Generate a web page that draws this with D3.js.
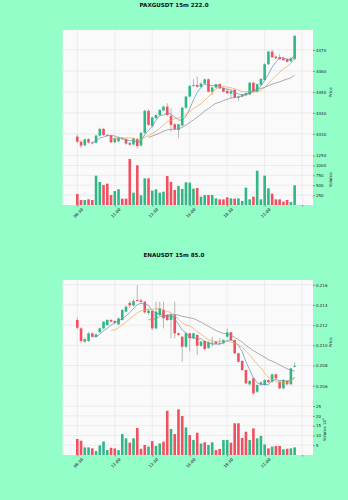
<!DOCTYPE html>
<html><head><meta charset="utf-8">
<script src="https://cdn.jsdelivr.net/npm/d3@7"></script>
<style>body{margin:0;background:#93fec8;}svg{display:block;font-family:"DejaVu Sans",sans-serif;}</style>
</head><body><svg id="c" width="348" height="500"></svg>
<script>
// ---- shared x ticks ----
const tickIndex = [0, 10, 20, 30, 40, 50, 60];
const tickLabels = ["08:30", "11:00", "13:30", "16:00", "18:30", "21:00", ""];
const maPeriods = [5, 10, 20];

// ---- PAXGUSDT ----
const paxgTitle = "PAXGUSDT 15m 222.0";
const paxgOpen = [4428.7,4426.3,4424.6,4427.5,4425.9,4425.8,4429.2,4432.4,4429.5,4429.2,4426.0,4426.5,4428.0,4427.5,4425.6,4425.0,4427.6,4424.5,4430.5,4441.0,4433.8,4437.5,4439.0,4441.2,4443.0,4438.5,4434.6,4431.9,4434.0,4442.5,4447.8,4452.9,4453.3,4452.4,4454.0,4456.0,4450.1,4452.1,4453.7,4451.9,4450.6,4449.2,4451.0,4447.3,4447.8,4448.4,4448.8,4454.4,4450.1,4453.4,4455.7,4463.2,4469.2,4466.8,4466.5,4466.0,4465.6,4464.6,4465.6];
const paxgHigh = [4429.6,4426.8,4427.9,4428.0,4426.4,4429.6,4432.9,4432.9,4430.0,4429.6,4428.4,4428.8,4428.4,4428.0,4426.2,4428.3,4428.0,4431.0,4441.6,4441.5,4438.2,4439.4,4441.8,4443.4,4444.6,4442.2,4435.0,4434.9,4442.8,4448.2,4453.2,4456.2,4457.3,4454.4,4456.4,4456.4,4452.5,4454.0,4454.1,4452.3,4451.3,4450.8,4451.4,4448.2,4448.9,4449.8,4454.8,4454.8,4454.0,4456.6,4463.6,4469.6,4470.0,4467.2,4468.0,4466.4,4466.0,4466.4,4477.1];
const paxgLow = [4425.6,4423.3,4424.0,4425.4,4425.0,4425.4,4428.8,4429.0,4428.8,4425.6,4425.6,4426.0,4427.0,4424.8,4424.4,4424.6,4423.2,4424.0,4430.0,4433.8,4433.2,4437.0,4438.6,4440.8,4438.6,4431.1,4431.8,4428.0,4433.6,4442.0,4447.4,4452.4,4452.0,4452.0,4453.6,4449.8,4448.6,4451.7,4451.4,4449.8,4449.0,4447.0,4447.0,4445.7,4447.4,4448.0,4448.4,4449.8,4449.8,4453.0,4455.4,4462.8,4466.2,4465.7,4465.3,4464.8,4464.0,4464.2,4465.2];
const paxgClose = [4426.3,4424.4,4427.4,4425.9,4425.5,4429.2,4432.4,4429.5,4429.2,4426.0,4428.0,4428.3,4427.6,4425.4,4424.9,4427.8,4424.2,4430.5,4441.0,4434.3,4437.8,4439.0,4441.4,4443.0,4439.0,4434.3,4432.4,4434.6,4442.5,4447.8,4452.9,4453.3,4452.5,4454.0,4456.0,4450.1,4452.1,4453.7,4451.7,4450.1,4449.4,4450.4,4447.3,4447.8,4448.6,4449.4,4454.4,4450.1,4453.7,4456.2,4463.2,4469.2,4466.5,4466.0,4465.6,4465.1,4464.4,4466.0,4476.7];
const paxgVolume = [278,126,126,143,126,740,581,505,538,252,353,396,160,160,1162,311,1002,244,673,673,362,396,311,337,732,581,379,480,404,572,564,412,429,210,252,252,252,168,143,143,193,168,160,168,101,438,143,210,867,143,740,421,286,143,143,84,126,76,497];
const paxgPriceTicks = [4430, 4440, 4450, 4460, 4470];
const paxgVolumeTicks = [250, 500, 750, 1000, 1250];

// ---- ENAUSDT ----
const enaTitle = "ENAUSDT 15m 85.0";
const enaOpen = [0.21251,0.21168,0.21036,0.21043,0.21119,0.21085,0.21130,0.21168,0.21201,0.21251,0.21240,0.21208,0.21251,0.21333,0.21420,0.21395,0.21449,0.21445,0.21432,0.21320,0.21340,0.21168,0.21300,0.21350,0.21300,0.21251,0.21300,0.21119,0.21085,0.20986,0.21119,0.21069,0.21102,0.20996,0.21043,0.20975,0.21016,0.21036,0.21023,0.21020,0.21085,0.21129,0.21052,0.20921,0.20845,0.20755,0.20614,0.20673,0.20541,0.20614,0.20607,0.20656,0.20640,0.20713,0.20640,0.20574,0.20647,0.20614,0.20788];
const enaHigh = [0.21275,0.21180,0.21075,0.21130,0.21130,0.21118,0.21175,0.21240,0.21260,0.21262,0.21250,0.21275,0.21360,0.21392,0.21440,0.21460,0.21597,0.21462,0.21440,0.21360,0.21350,0.21432,0.21432,0.21432,0.21310,0.21310,0.21432,0.21130,0.21095,0.21130,0.21125,0.21125,0.21110,0.21045,0.21050,0.21040,0.21085,0.21045,0.21070,0.21060,0.21168,0.21135,0.21058,0.20928,0.20852,0.20760,0.20655,0.20680,0.20615,0.20640,0.20665,0.20662,0.20720,0.20720,0.20648,0.20665,0.20655,0.20780,0.20832];
const enaLow = [0.21160,0.21020,0.21025,0.21035,0.21075,0.21075,0.21120,0.21160,0.21195,0.21228,0.21215,0.21200,0.21245,0.21325,0.21370,0.21388,0.21430,0.21420,0.21310,0.21300,0.21150,0.21160,0.21290,0.21168,0.21240,0.21069,0.21069,0.21095,0.20838,0.20975,0.20937,0.21060,0.20904,0.20985,0.20950,0.20965,0.20986,0.21008,0.21010,0.21012,0.21078,0.21045,0.20915,0.20830,0.20748,0.20615,0.20600,0.20510,0.20530,0.20605,0.20600,0.20625,0.20632,0.20665,0.20565,0.20565,0.20605,0.20608,0.20780];
const enaClose = [0.21174,0.21043,0.21062,0.21119,0.21085,0.21109,0.21168,0.21234,0.21251,0.21234,0.21222,0.21267,0.21350,0.21383,0.21395,0.21439,0.21440,0.21430,0.21327,0.21345,0.21168,0.21333,0.21366,0.21267,0.21251,0.21300,0.21119,0.21102,0.20986,0.21119,0.21069,0.21119,0.20996,0.21036,0.20963,0.21030,0.21026,0.21016,0.21018,0.21052,0.21129,0.21052,0.20921,0.20838,0.20755,0.20624,0.20647,0.20525,0.20607,0.20634,0.20656,0.20634,0.20713,0.20673,0.20574,0.20656,0.20614,0.20772,0.20798];
const enaVolume = [8.2,7.3,3.9,3.9,3.4,2.0,4.9,6.9,2.5,3.7,3.4,2.5,10.7,8.5,6.3,8.5,13.8,3.2,5.1,4.3,7.1,4.6,5.9,6.8,22.6,13.3,10.7,23.3,19.9,14.1,10.2,7.7,11.4,5.9,6.5,5.1,6.5,2.5,3.1,7.7,7.7,6.3,16.2,16.2,8.7,11.9,7.7,13.6,8.5,9.7,5.4,3.4,4.3,4.6,4.6,2.9,3.2,3.4,3.9];
const enaPriceTicks = [0.206, 0.208, 0.210, 0.212, 0.214, 0.216];
const enaVolumeTicks = [5, 10, 15, 20, 25];

// ---- style ----
const UP = "#2fb883", DOWN = "#f0505f", WICK = "#8c8c8c";
const MA_COLORS = ["#5a8fb8", "#f3a34a", "#8a8a8a"];
const svg = d3.select("#c");

function drawChart(cfg) {
  const L = 62.7, R = 313;
  const n = cfg.close.length;
  const x = d3.scaleLinear().domain([-3.9, 62.9]).range([L, R]);
  const y = d3.scaleLinear().domain(cfg.priceDomain).range([cfg.split, cfg.top]);
  const yv = d3.scaleLinear().domain(cfg.volDomain).range([cfg.bottom, cfg.split]);
  const g = svg.append("g");

  // title
  g.append("text").attr("x", 174).attr("y", cfg.titleY).attr("text-anchor", "middle")
    .attr("font-size", 5.6).attr("font-weight", "bold").attr("fill", "#111").text(cfg.title);

  // backgrounds
  g.append("rect").attr("x", L).attr("y", cfg.top).attr("width", R - L).attr("height", cfg.bottom - cfg.top).attr("fill", "#fafafa");

  // grid
  const grid = g.append("g").attr("stroke", "#dcdcdc").attr("stroke-width", 0.5);
  tickIndex.forEach(t => {
    grid.append("line").attr("x1", x(t)).attr("x2", x(t)).attr("y1", cfg.top).attr("y2", cfg.bottom);
  });
  cfg.priceTicks.forEach(t => grid.append("line").attr("x1", L).attr("x2", R).attr("y1", y(t)).attr("y2", y(t)));
  cfg.volTicks.forEach(t => grid.append("line").attr("x1", L).attr("x2", R).attr("y1", yv(t)).attr("y2", yv(t)));

  const bw = 2.6;
  const idx = d3.range(n);
  // volume
  g.append("g").selectAll("rect").data(idx).join("rect")
    .attr("x", i => x(i) - bw / 2).attr("width", bw)
    .attr("y", i => yv(cfg.volume[i])).attr("height", i => yv(0) - yv(cfg.volume[i]))
    .attr("fill", i => cfg.close[i] >= cfg.open[i] ? UP : DOWN);

  // wicks
  g.append("g").selectAll("line").data(idx).join("line")
    .attr("x1", i => x(i)).attr("x2", i => x(i))
    .attr("y1", i => y(cfg.high[i])).attr("y2", i => y(cfg.low[i]))
    .attr("stroke", WICK).attr("stroke-width", 0.6);
  // bodies
  g.append("g").selectAll("rect").data(idx).join("rect")
    .attr("x", i => x(i) - bw / 2).attr("width", bw)
    .attr("y", i => y(Math.max(cfg.open[i], cfg.close[i])))
    .attr("height", i => Math.max(0.6, Math.abs(y(cfg.open[i]) - y(cfg.close[i]))))
    .attr("fill", i => cfg.close[i] >= cfg.open[i] ? UP : DOWN);

  // moving averages
  maPeriods.forEach((p, k) => {
    const pts = [];
    for (let i = p - 1; i < n; i++) pts.push([i, d3.mean(cfg.close.slice(i - p + 1, i + 1))]);
    g.append("path").datum(pts).attr("fill", "none").attr("stroke", MA_COLORS[k]).attr("stroke-width", 0.7)
      .attr("d", d3.line().x(d => x(d[0])).y(d => y(d[1])));
  });

  // right axes
  const axP = g.append("g").attr("transform", `translate(${R},0)`)
    .call(d3.axisRight(y).tickValues(cfg.priceTicks).tickFormat(cfg.priceFmt).tickSize(1.8).tickPadding(1.2));
  const axV = g.append("g").attr("transform", `translate(${R},0)`)
    .call(d3.axisRight(yv).tickValues(cfg.volTicks).tickFormat(d3.format("d")).tickSize(1.8).tickPadding(1.2));
  [axP, axV].forEach(a => {
    a.select(".domain").remove();
    a.selectAll("line").attr("stroke", "#333").attr("stroke-width", 0.5);
    a.selectAll("text").attr("font-size", 4).attr("fill", "#222").attr("font-family", "DejaVu Sans");
  });

  // x axis labels
  const axX = g.append("g").attr("transform", `translate(0,${cfg.bottom})`)
    .call(d3.axisBottom(x).tickValues(tickIndex).tickFormat((d, i) => tickLabels[i]).tickSize(1.5));
  axX.select(".domain").remove();
  axX.selectAll("line").attr("stroke", "#333").attr("stroke-width", 0.5);
  axX.selectAll("text").attr("font-size", 4).attr("fill", "#222").attr("font-family", "DejaVu Sans")
    .attr("text-anchor", "end").attr("dy", 0).attr("y", 0)
    .attr("transform", "translate(5.6,4.8) rotate(-45)");

  // y labels
  g.append("text").attr("transform", `translate(${cfg.priceLabelX},${(cfg.top + cfg.split) / 2}) rotate(-90)`)
    .attr("text-anchor", "middle").attr("font-size", 4).attr("fill", "#222").text("Price");
  const vl = g.append("text").attr("transform", `translate(${cfg.volLabelX},${(cfg.split + cfg.bottom) / 2}) rotate(-90)`)
    .attr("text-anchor", "middle").attr("font-size", 4).attr("fill", "#222").text(cfg.volLabel);
  if (cfg.volExp) {
    vl.append("tspan").text("  10");
    vl.append("tspan").attr("font-size", 2.8).attr("dy", -1.6).text(cfg.volExp);
  }
}

drawChart({
  title: paxgTitle, titleY: 7, top: 30, split: 154.5, bottom: 205,
  open: paxgOpen, high: paxgHigh, low: paxgLow, close: paxgClose, volume: paxgVolume,
  priceDomain: [4420.2, 4479.5], volDomain: [0, 1275],
  priceTicks: paxgPriceTicks, volTicks: paxgVolumeTicks, priceFmt: d3.format("d"),
  priceLabelX: 331.5, volLabelX: 331.5, volLabel: "Volume"
});
drawChart({
  title: enaTitle, titleY: 256.5, top: 280, split: 404.5, bottom: 455,
  open: enaOpen, high: enaHigh, low: enaLow, close: enaClose, volume: enaVolume,
  priceDomain: [0.20414, 0.21647], volDomain: [0, 25.8],
  priceTicks: enaPriceTicks, volTicks: enaVolumeTicks, priceFmt: d3.format(".3f"),
  priceLabelX: 331.5, volLabelX: 326, volLabel: "Volume", volExp: "5"
});
</script></body></html>
